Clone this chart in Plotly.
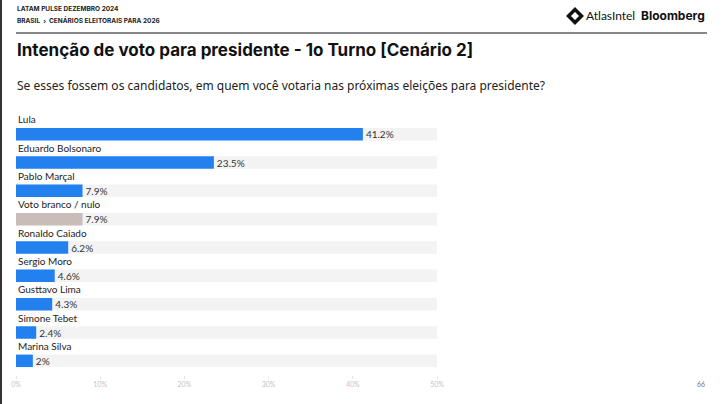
import plotly.graph_objects as go

categories = ["Lula", "Eduardo Bolsonaro", "Pablo Marçal", "Voto branco / nulo",
              "Ronaldo Caiado", "Sergio Moro", "Gusttavo Lima", "Simone Tebet", "Marina Silva"]
values = [41.2, 23.5, 7.9, 7.9, 6.2, 4.6, 4.3, 2.4, 2.0]
value_labels = ["41.2%", "23.5%", "7.9%", "7.9%", "6.2%", "4.6%", "4.3%", "2.4%", "2%"]
tick_vals = [0, 10, 20, 30, 40, 50]
tick_text = ["0%", "10%", "20%", "30%", "40%", "50%"]
axis_max = 50

W, H = 722, 404
L, R, T, B = 16, 285, 120, 29
PW, PH = W - L - R, H - T - B

def X(px):
    return (px - L) / PW

def Y(py):
    return (H - B - py) / PH

blue = "#2280ef"
gray_bar = "#c9bdb9"
colors = [gray_bar if c == "Voto branco / nulo" else blue for c in categories]

fig = go.Figure()
fig.add_trace(go.Bar(
    y=categories, x=[axis_max] * len(categories), orientation="h",
    marker=dict(color="#f3f3f3", line=dict(width=0)), width=0.44,
    hoverinfo="skip", showlegend=False,
))
fig.add_trace(go.Bar(
    y=categories, x=values, orientation="h",
    marker=dict(color=colors, line=dict(width=0)), width=0.44,
    text=value_labels, textposition="outside", cliponaxis=False,
    textfont=dict(family="Lato", size=10, color="#333333"),
    showlegend=False,
))

annotations = []
for c in categories:
    annotations.append(dict(
        x=0, y=c, xref="x", yref="y", yshift=15, text=c, showarrow=False,
        xanchor="left", yanchor="middle",
        font=dict(family="Lato", size=10, color="#222222"),
    ))

def paper_text(px, py, text, size, color="#111111", family="Inter", anchor="left", weight=None):
    t = f"<b>{text}</b>" if weight == "bold" else text
    annotations.append(dict(
        x=X(px), y=Y(py), xref="paper", yref="paper", text=t, showarrow=False,
        xanchor=anchor, yanchor="middle", font=dict(family=family, size=size, color=color),
    ))

paper_text(15, 9, "LATAM PULSE DEZEMBRO 2024", 6.5, "#222222", "Inter", weight="bold")
paper_text(15, 20, "BRASIL  ›  CENÁRIOS ELEITORAIS PARA 2026", 6.5, "#222222", "Inter", weight="bold")
paper_text(15, 50, "Intenção de voto para presidente - 1o Turno [Cenário 2]", 17, "#111111", "Inter", weight="bold")
paper_text(15, 85, "Se esses fossem os candidatos, em quem você votaria nas próximas eleições para presidente?", 12, "#222222", "Noto Sans")
paper_text(584, 16, "AtlasIntel", 12, "#111111", "Lato")
paper_text(707, 16, "Bloomberg", 12, "#111111", "Inter", anchor="right", weight="bold")
paper_text(707, 384, "66", 7, "#777777", "Lato", anchor="right")

shapes = [
    dict(type="line", xref="paper", yref="paper", x0=X(16), x1=X(707), y0=Y(33), y1=Y(33),
         line=dict(color="#111111", width=1)),
    dict(type="line", xref="paper", yref="paper", x0=X(1), x1=X(1), y0=Y(0), y1=Y(404),
         line=dict(color="#333333", width=2)),
    # AtlasIntel logo mark (rounded diamond outline)
    dict(type="path", xref="paper", yref="paper",
         path=(f"M {X(575)} {Y(9.5)} L {X(581.5)} {Y(16)} L {X(575)} {Y(22.5)} "
               f"L {X(568.5)} {Y(16)} Z"),
         line=dict(color="#111111", width=3.5), fillcolor="white"),
]

fig.update_layout(
    width=W, height=H, autosize=False,
    margin=dict(l=L, r=R, t=T, b=B, pad=0),
    paper_bgcolor="white", plot_bgcolor="white",
    barmode="overlay", bargap=0.5,
    xaxis=dict(range=[0, axis_max], autorange=False, tickvals=tick_vals, ticktext=tick_text,
               showgrid=False, zeroline=False, showline=False,
               ticks="outside", ticklen=3, tickcolor="#e6e6e6",
               tickfont=dict(family="Lato", size=7, color="#c4c4c4")),
    yaxis=dict(categoryorder="array", categoryarray=categories, autorange=False,
               showticklabels=False, showgrid=False, zeroline=False, showline=False,
               range=[len(categories) - 0.5, -0.5]),
    annotations=annotations, shapes=shapes,
)

fig.write_html("out.html", config={"displayModeBar": False},
               post_script="document.body.style.margin='0';document.body.style.overflow='hidden';")
